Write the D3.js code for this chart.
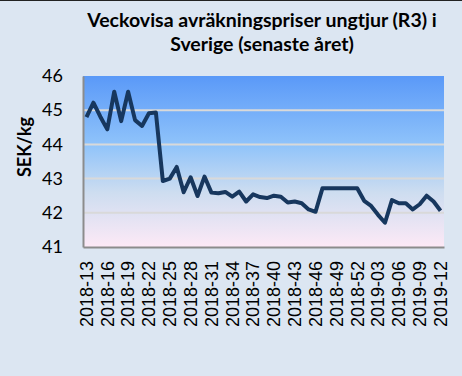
<!DOCTYPE html>
<html>
<head>
  <meta charset="utf-8">
  <title>Veckovisa avräkningspriser ungtjur</title>
  <script src="https://d3js.org/d3.v7.min.js"></script>
  <style>
    body { margin: 0; background: #dce6f2; }
    svg { display: block; }
    .title { font: bold 19.5px Lato, sans-serif; fill: #000; text-anchor: middle; }
    .ytick text { font: 18px Lato, sans-serif; fill: #000; }
    .xtick text { font: 18px "Liberation Sans", Arial, sans-serif; fill: #000; }
    .ylabel { font: bold 18px Lato, sans-serif; text-anchor: middle; }
  </style>
</head>
<body>
  <script>
    // veckor 2018-13 .. 2019-12
    var weeks = [];
    for (var w = 13; w <= 52; w++) weeks.push("2018-" + w);
    for (var w = 1; w <= 12; w++) weeks.push("2019-" + (w < 10 ? "0" + w : w));

    var prices = [
      44.80, 45.22, 44.81, 44.44, 45.54, 44.68, 45.54, 44.71, 44.54, 44.91,
      44.93, 42.93, 43.00, 43.34, 42.60, 43.04, 42.49, 43.06, 42.59, 42.57,
      42.61, 42.47, 42.62, 42.33, 42.54, 42.46, 42.43, 42.50, 42.47, 42.30,
      42.33, 42.28, 42.10, 42.03, 42.72, 42.72, 42.72, 42.72, 42.72, 42.72,
      42.35, 42.20, 41.94, 41.71, 42.37, 42.28, 42.28, 42.10, 42.25, 42.50,
      42.33, 42.06
    ];

    var yTicks = [41, 42, 43, 44, 45, 46];
    var xTickLabels = weeks.filter((d, i) => i % 3 === 0);

    var W = 462, H = 376;
    var margin = {top: 76, right: 18, bottom: 129, left: 83};
    var width = W - margin.left - margin.right,
        height = H - margin.top - margin.bottom;

    var svg = d3.select("body").append("svg")
        .attr("width", W)
        .attr("height", H);

    svg.append("rect").attr("width", W).attr("height", H).attr("fill", "#dce6f2");
    svg.append("line").attr("x1", 0).attr("x2", W).attr("y1", 0.5).attr("y2", 0.5)
        .attr("stroke", "#222").attr("stroke-width", 1);

    var grad = svg.append("defs").append("linearGradient")
        .attr("id", "bg").attr("x1", 0).attr("x2", 0).attr("y1", 0).attr("y2", 1);
    [[0, "#5a99f8"], [0.4, "#8fc3fa"], [0.68, "#cdddf0"], [1, "#fde9f6"]].forEach(s =>
      grad.append("stop").attr("offset", s[0]).attr("stop-color", s[1]));

    var g = svg.append("g")
        .attr("transform", "translate(" + margin.left + "," + margin.top + ")");

    var x = d3.scaleBand().domain(weeks).range([0, width]);
    var y = d3.scaleLinear().domain([41, 46]).range([height, 0]);

    g.append("rect").attr("width", width).attr("height", height).attr("fill", "url(#bg)");

    g.selectAll(".grid").data(yTicks.slice(1, -1)).enter().append("line")
        .attr("class", "grid")
        .attr("x1", 0).attr("x2", width)
        .attr("y1", d => y(d)).attr("y2", d => y(d))
        .attr("stroke", "#d9d9d9").attr("stroke-width", 2);

    // y axis
    var yAxis = g.append("g").attr("class", "ytick")
        .call(d3.axisLeft(y).tickValues(yTicks).tickFormat(d3.format("d")).tickSize(0).tickPadding(20));
    yAxis.select(".domain").attr("stroke", "#8c8c8c").attr("stroke-width", 2);

    // x axis
    var xAxis = g.append("g").attr("class", "xtick")
        .attr("transform", "translate(0," + height + ")")
        .call(d3.axisBottom(x).tickValues(xTickLabels).tickSize(0));
    xAxis.select(".domain").attr("stroke", "#8c8c8c").attr("stroke-width", 2);
    xAxis.selectAll("text")
        .attr("transform", "rotate(-90)")
        .attr("text-anchor", "end")
        .attr("x", -14).attr("y", 0).attr("dy", "0.35em");

    var line = d3.line()
        .x((d, i) => x(weeks[i]) + x.bandwidth() / 2)
        .y(d => y(d));

    g.append("path").datum(prices)
        .attr("d", line)
        .attr("fill", "none")
        .attr("stroke", "#17375e")
        .attr("stroke-width", 4)
        .attr("stroke-linejoin", "round");

    svg.append("text").attr("class", "ylabel")
        .attr("transform", "translate(25," + (margin.top + 71) + ") rotate(-90)")
        .attr("dy", "0.35em")
        .text("SEK/kg");

    var title = svg.append("text").attr("class", "title").attr("x", 262);
    title.append("tspan").attr("x", 262).attr("y", 27).text("Veckovisa avräkningspriser ungtjur (R3) i");
    title.append("tspan").attr("x", 262).attr("y", 51).text("Sverige (senaste året)");
  </script>
</body>
</html>
